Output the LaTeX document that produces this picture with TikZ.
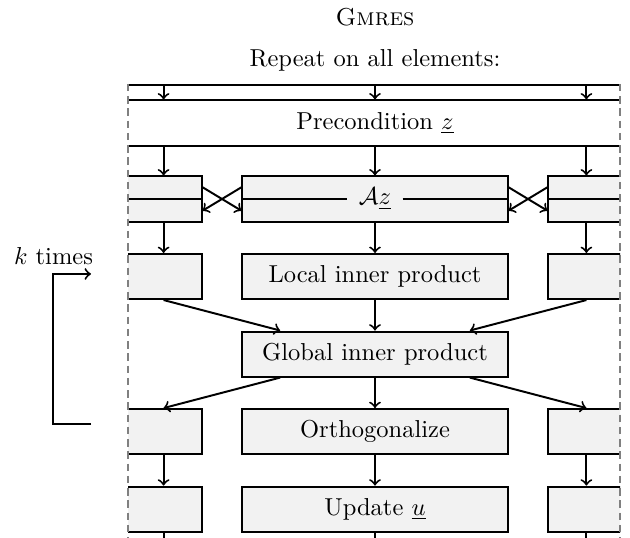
\documentclass[tikz,border=0pt]{standalone}
\usetikzlibrary{positioning,calc}
\begin{document}
\begin{tikzpicture}[
    x=0.4082pt, y=-0.4082pt,
    node distance=12.45pt and 15.9pt,
    block/.style={rectangle, draw, thick, fill=gray!10, minimum height=18.4pt, inner sep=0pt},
    main/.style={block, minimum width=108.2pt},
    side/.style={block, minimum width=31pt},
    line/.style={draw, thick, ->},
    border/.style={draw=gray, thick, dash pattern=on 3pt off 2pt},
    heading/.style={anchor=base}
]
    \useasboundingbox (0,0) rectangle (630,538);

    % Headings
    \node [heading] (title) at (375,26) {\textsc{Gmres}};
    \node [heading] (repeat) at (375,67) {Repeat on all elements:};

    % Frame of the element loop
    \coordinate (top left) at (128,85);
    \coordinate (top right) at (620,85);
    \coordinate (bottom left) at (128,538);
    \coordinate (bottom right) at (620,538);

    \begin{scope}
        \clip (128,78) rectangle (bottom right);

        % Place nodes
        \node [block, fill=none, minimum width=210pt] (pre) at (375,123) {Precondition $\underline{z}$};
        \node [main] (az) at (375,199) {};
        \node [main, below=of az] (loc) {Local inner product};
        \node [main, below=of loc] (glob) {Global inner product};
        \node [main, below=of glob] (orth) {Orthogonalize};
        \node [main, below=of orth] (upd) {Update $\underline{u}$};
        \foreach \row in {az, loc, orth, upd} {
            \node [side, left=of \row] (l\row) {};
            \node [side, right=of \row] (r\row) {};
        }

        % Split rows of the product
        \node [inner sep=4.5pt] (az label) at (az) {$\mathcal{A}\underline{z}$};
        \draw [thick] (az.west) -- (az label.west) (az label.east) -- (az.east);
        \draw [thick] (laz.west) -- (laz.east) (raz.west) -- (raz.east);

        % Draw edges
        \foreach \col in {laz, az, raz} {
            \path [line] (\col |- top left) -- (\col |- pre.north);
            \path [line] (\col |- pre.south) -- (\col.north);
        }
        \path [line] ($(laz.north east)!0.25!(laz.south east)$) -- ($(az.north west)!0.75!(az.south west)$);
        \path [line] ($(az.north west)!0.25!(az.south west)$) -- ($(laz.north east)!0.75!(laz.south east)$);
        \path [line] ($(raz.north west)!0.25!(raz.south west)$) -- ($(az.north east)!0.75!(az.south east)$);
        \path [line] ($(az.north east)!0.25!(az.south east)$) -- ($(raz.north west)!0.75!(raz.south west)$);
        \foreach \from/\to in {laz/lloc, az/loc, raz/rloc, loc/glob, glob/orth, lorth/lupd, orth/upd, rorth/rupd}
            \path [line] (\from.south) -- (\to.north);
        \path [line] (lloc.south) -- ($(glob.north west)!0.145!(glob.north east)$);
        \path [line] (rloc.south) -- ($(glob.north west)!0.855!(glob.north east)$);
        \path [line] ($(glob.south west)!0.145!(glob.south east)$) -- (lorth.north);
        \path [line] ($(glob.south west)!0.855!(glob.south east)$) -- (rorth.north);
        \foreach \col in {lupd, upd, rupd}
            \draw [thick] (\col.south) -- (\col |- bottom left);
    \end{scope}

    \draw [thick] (top left) -- (top right);
    \draw [border] (128,84) -- (bottom left);
    \draw [border] (620,84) -- (bottom right);

    % Outer iteration
    \coordinate (loop start) at (91,424);
    \coordinate (loop end) at (91,274);
    \path [line] (loop start) -- ++(-38,0) |- (loop end);
    \node [heading] (loop label) at (53.5,265) {$k$ times};
\end{tikzpicture}
\end{document}
